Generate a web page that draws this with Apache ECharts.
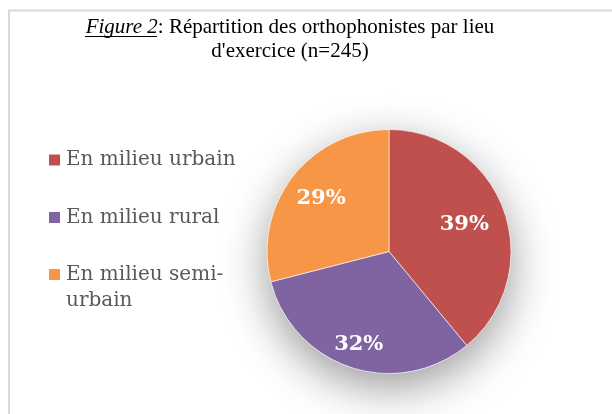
<!DOCTYPE html>
<html>
<head>
<meta charset="utf-8">
<script src="https://cdn.jsdelivr.net/npm/echarts@6/dist/echarts.min.js"></script>
<style>
  html, body { margin: 0; background: #fff; }
  #chart { width: 612px; height: 414px; }
</style>
</head>
<body>
<div id="chart"></div>
<script>
const categories = ['En milieu urbain', 'En milieu rural', 'En milieu semi-urbain']
const shares = [39, 32, 29]
const colors = ['#C0504D', '#8064A2', '#F79646']

// pie geometry and where Excel put each percentage
const center = [389, 251.5]
const radius = 122
const labelRadius = [80, 98, 86]
const serif = 'DejaVu Serif'
const times = 'Liberation Serif'

const total = shares.reduce((a, b) => a + b, 0)

function labelPos(i) {
  const before = shares.slice(0, i).reduce((a, b) => a + b, 0)
  const angle = (before + shares[i] / 2) / total * Math.PI * 2
  return { x: center[0] + Math.sin(angle) * labelRadius[i], y: center[1] - Math.cos(angle) * labelRadius[i] }
}

const legendText = { fontFamily: serif, fontSize: 20, lineHeight: 26, color: '#595959' }

const chart = echarts.init(document.getElementById('chart'))
chart.setOption({
  animation: false,
  graphic: [
    { type: 'rect', shape: { x: 9, y: 10.5, width: 700, height: 500 }, style: { fill: 'none', stroke: '#d9d9d9', lineWidth: 2 }, silent: true },
    {
      type: 'text', x: 290, y: 16, silent: true,
      style: {
        text: "{fig|Figure 2}: Répartition des orthophonistes par lieu\nd'exercice (n=245)",
        align: 'center', verticalAlign: 'top',
        fontFamily: times, fontSize: 21, lineHeight: 23.5, fill: '#000',
        rich: { fig: { fontFamily: times, fontSize: 21, lineHeight: 23.5, fontStyle: 'italic', fill: '#000' } }
      }
    },
    { type: 'line', shape: { x1: 85, y1: 36.5, x2: 157, y2: 36.5 }, style: { stroke: '#000', lineWidth: 1 }, silent: true }
  ],
  legend: [
    {
      data: categories.slice(0, 2), orient: 'vertical', left: 47, top: 147, padding: 0,
      itemGap: 31.6, itemWidth: 13, itemHeight: 13, icon: 'rect', textStyle: legendText
    },
    {
      // empty first line keeps the marker level with "En milieu semi-"
      data: categories.slice(2), orient: 'vertical', left: 47, top: 235.5, padding: 0,
      itemWidth: 13, itemHeight: 13, icon: 'rect',
      formatter: name => '\n' + name.replace('semi-', 'semi-\n'),
      textStyle: legendText
    }
  ],
  series: [
    {
      // white disc carrying the soft drop shadow
      type: 'pie', center, radius, silent: true, z: 1,
      label: { show: false }, labelLine: { show: false },
      itemStyle: { color: '#fff', shadowBlur: 45, shadowColor: 'rgba(0,0,0,0.4)', shadowOffsetY: 14 },
      data: [{ value: 1, name: '' }]
    },
    {
      type: 'pie', center, radius, startAngle: 90, clockwise: true, z: 2,
      itemStyle: { borderColor: '#fff', borderWidth: 0.6 },
      label: {
        position: 'inside', formatter: '{c}%', color: '#fff',
        fontFamily: serif, fontWeight: 'bold', fontSize: 21
      },
      labelLine: { show: false },
      labelLayout: params => labelPos(params.dataIndex),
      emphasis: { scale: false },
      data: categories.map((name, i) => ({ name, value: shares[i], itemStyle: { color: colors[i] } }))
    }
  ]
})
</script>
</body>
</html>
